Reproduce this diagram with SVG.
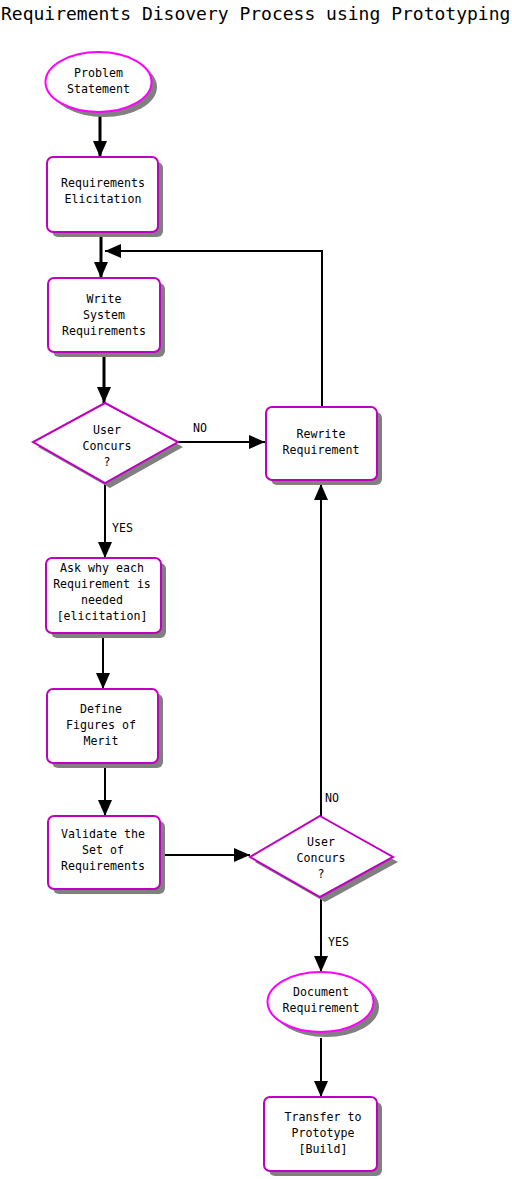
<svg xmlns="http://www.w3.org/2000/svg" width="512" height="1179" viewBox="0 0 512 1179">
<style>
.bg{fill:#fff}
.shadow{fill:#808080;stroke:none}
.box{fill:#fff;stroke:#c000c0;stroke-width:2}
.oval{fill:#fff;stroke:#ff00ff;stroke-width:2}
.t{font-family:"DejaVu Sans Mono","Liberation Mono",monospace;font-size:11.6px;fill:#000;text-anchor:middle}
.lbl{font-family:"DejaVu Sans Mono","Liberation Mono",monospace;font-size:11.6px;fill:#000}
.title{font-family:"DejaVu Sans Mono","Liberation Mono",monospace;font-size:18px;fill:#000}
.c{fill:none;stroke:#000;stroke-width:2}
.thick{stroke-width:3}
</style>
<defs>
<marker id="ah" markerUnits="userSpaceOnUse" markerWidth="16" markerHeight="14" refX="16" refY="7" orient="auto">
<path d="M0,0 L16,7 L0,14 Z" fill="#000"/>
</marker>
</defs>
<rect class="bg" x="0" y="0" width="512" height="1179"/>
<text class="title" x="1" y="20">Requirements Disovery Process using Prototyping</text>

<g id="connectors">
<line class="c thick" x1="100" y1="113" x2="100" y2="157" marker-end="url(#ah)"/>
<line class="c thick" x1="101" y1="234" x2="101" y2="278" marker-end="url(#ah)"/>
<line class="c thick" x1="104" y1="354" x2="104" y2="403" marker-end="url(#ah)"/>
<polyline class="c" points="322,407 322,251 105,251" marker-end="url(#ah)"/>
<line class="c" x1="178" y1="442" x2="265" y2="442" marker-end="url(#ah)"/>
<line class="c" x1="105" y1="484" x2="105" y2="558" marker-end="url(#ah)"/>
<line class="c" x1="103" y1="634" x2="103" y2="689" marker-end="url(#ah)"/>
<line class="c" x1="105" y1="765" x2="105" y2="816" marker-end="url(#ah)"/>
<line class="c" x1="165" y1="855" x2="250" y2="855" marker-end="url(#ah)"/>
<line class="c" x1="321" y1="816" x2="321" y2="484" marker-end="url(#ah)"/>
<line class="c" x1="321" y1="898" x2="321" y2="972" marker-end="url(#ah)"/>
<line class="c" x1="321" y1="1038" x2="321" y2="1097" marker-end="url(#ah)"/>
<text class="lbl" x="193" y="432">NO</text>
<text class="lbl" x="112" y="532">YES</text>
<text class="lbl" x="325" y="802">NO</text>
<text class="lbl" x="328" y="946">YES</text>
</g>

<g id="problem-statement">
<ellipse class="shadow" cx="104" cy="87" rx="53" ry="30"/>
<ellipse class="oval" cx="98.5" cy="82" rx="53" ry="30"/>
<text class="t" x="98.5" y="77">Problem</text>
<text class="t" x="98.5" y="93">Statement</text>
</g>

<g id="requirements-elicitation">
<rect class="shadow" x="52" y="162" width="111" height="75" rx="6"/>
<rect class="box" x="47" y="157" width="111" height="75" rx="6"/>
<text class="t" x="103" y="187">Requirements</text>
<text class="t" x="103" y="203">Elicitation</text>
</g>

<g id="write-system-requirements">
<rect class="shadow" x="53" y="283" width="112" height="74" rx="6"/>
<rect class="box" x="48" y="278" width="112" height="74" rx="6"/>
<text class="t" x="104" y="303">Write</text>
<text class="t" x="104" y="319">System</text>
<text class="t" x="104" y="335">Requirements</text>
</g>

<g id="user-concurs-1">
<polygon class="shadow" points="110,408 183,447 110,488 38,447"/>
<polygon class="box" points="105,403 178,442 105,483 33,442"/>
<text class="t" x="107" y="434">User</text>
<text class="t" x="107" y="450">Concurs</text>
<text class="t" x="107" y="466">?</text>
</g>

<g id="rewrite-requirement">
<rect class="shadow" x="271" y="412" width="111" height="73" rx="6"/>
<rect class="box" x="266" y="407" width="111" height="73" rx="6"/>
<text class="t" x="321" y="438">Rewrite</text>
<text class="t" x="321" y="454">Requirement</text>
</g>

<g id="ask-why">
<rect class="shadow" x="51" y="563" width="115" height="75" rx="6"/>
<rect class="box" x="46" y="558" width="115" height="75" rx="6"/>
<text class="t" x="102" y="572">Ask why each</text>
<text class="t" x="102" y="588">Requirement is</text>
<text class="t" x="102" y="604">needed</text>
<text class="t" x="102" y="620">[elicitation]</text>
</g>

<g id="define-figures">
<rect class="shadow" x="52" y="694" width="111" height="74" rx="6"/>
<rect class="box" x="47" y="689" width="111" height="74" rx="6"/>
<text class="t" x="101" y="713">Define</text>
<text class="t" x="101" y="729">Figures of</text>
<text class="t" x="101" y="745">Merit</text>
</g>

<g id="validate">
<rect class="shadow" x="53" y="821" width="112" height="73" rx="6"/>
<rect class="box" x="48" y="816" width="112" height="73" rx="6"/>
<text class="t" x="103" y="838">Validate the</text>
<text class="t" x="103" y="854">Set of</text>
<text class="t" x="103" y="870">Requirements</text>
</g>

<g id="user-concurs-2">
<polygon class="shadow" points="325,821 398,862 325,902 255,862"/>
<polygon class="box" points="320,816 393,857 320,897 250,857"/>
<text class="t" x="321" y="846">User</text>
<text class="t" x="321" y="862">Concurs</text>
<text class="t" x="321" y="878">?</text>
</g>

<g id="document-requirement">
<ellipse class="shadow" cx="326" cy="1007" rx="53" ry="30"/>
<ellipse class="oval" cx="320.5" cy="1002" rx="53" ry="30"/>
<text class="t" x="321" y="996">Document</text>
<text class="t" x="321" y="1012">Requirement</text>
</g>

<g id="transfer-to-prototype">
<rect class="shadow" x="269" y="1102" width="113" height="74" rx="6"/>
<rect class="box" x="264" y="1097" width="113" height="74" rx="6"/>
<text class="t" x="323" y="1121">Transfer to</text>
<text class="t" x="323" y="1137">Prototype</text>
<text class="t" x="323" y="1153">[Build]</text>
</g>
</svg>
